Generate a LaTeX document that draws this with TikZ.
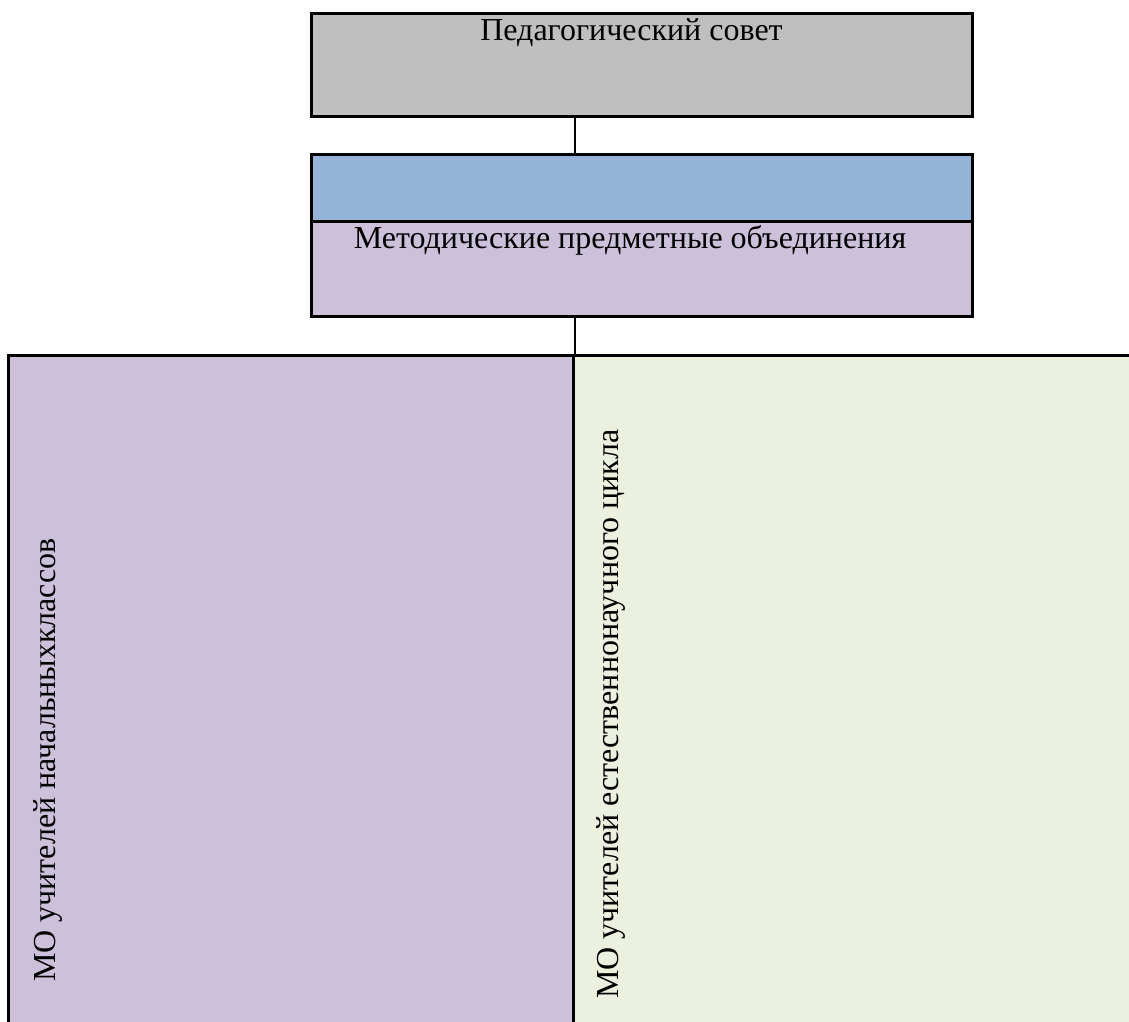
\documentclass[tikz,border=0pt]{standalone}
\usepackage{fontspec}
\setmainfont{Liberation Serif}
\usetikzlibrary{positioning}
\definecolor{sovetgray}{HTML}{BFBFBF}
\definecolor{headblue}{HTML}{95B3D7}
\definecolor{molilac}{HTML}{CCC0DA}
\definecolor{mogreen}{HTML}{EBF1DE}
\tikzset{orgbox/.style={rectangle,draw=black,line width=3pt,inner sep=0pt,
minimum width=661pt}}
\tikzset{mocol/.style={rectangle,draw=black,line width=3pt,inner sep=0pt,
minimum height=700pt}}
\tikzset{orgtext/.style={inner sep=0pt,anchor=base,font=\fontsize{32}{36}\selectfont}}
\tikzset{link/.style={line width=2pt}}

\begin{document}
\begin{tikzpicture}[x=1pt,y=-1pt]
    \useasboundingbox (0,0) rectangle (1129,1021);
    \clip (0,0) rectangle (1129,1021);

        \node[orgbox, fill=sovetgray, minimum height=103pt] (sovet) at (641.5,64.5) { };
        \node[orgbox, fill=headblue, minimum height=67pt] (metodtop) at (641.5,187.5) { };
        \node[orgbox, fill=molilac, minimum height=95pt] (metod) [below=-3pt of metodtop] { };

        \node[mocol, fill=molilac, minimum width=565pt] (nachal) at (290.5,705) { };
        \node[mocol, fill=mogreen, minimum width=600pt] (estnauch) [right=-3pt of nachal] { };

        \node[orgtext] (sovettext) at ([xshift=-10pt,yshift=-29pt]sovet.north) {Педагогический совет};
        \node[orgtext] (metodtext) at ([xshift=-11.5pt,yshift=-29pt]metod.north) {Методические предметные объединения};

        \node[orgtext, anchor=base west, rotate=90] (nachaltext) at (55,982) {МО учителей начальныхклассов};
        \node[orgtext, anchor=base west, rotate=90] (estnauchtext) at (618,999) {МО учителей естественнонаучного цикла};

        \draw [link] (sovet.south -| nachal.east) -- (metodtop.north -| nachal.east);
        \draw [link] (metod.south -| nachal.east) -- (nachal.north east);

    \end{tikzpicture}
\end{document}
